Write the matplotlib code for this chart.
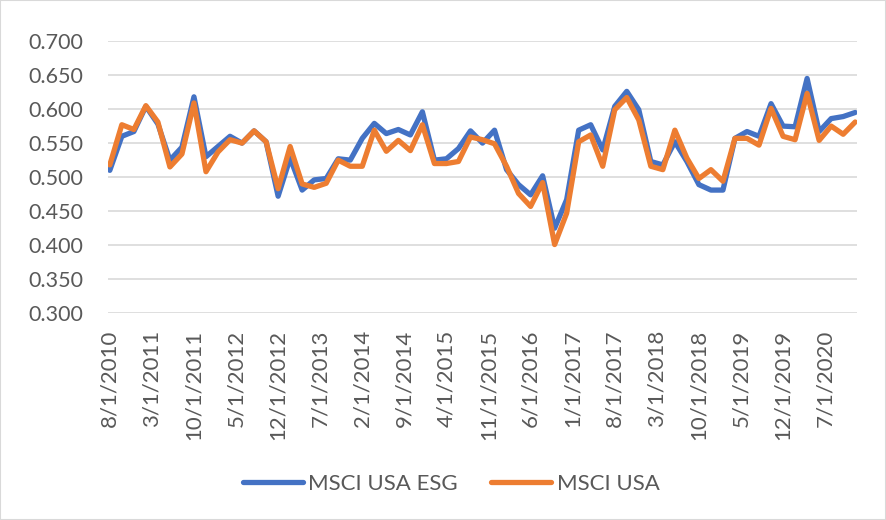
import numpy as np
import pandas as pd
import matplotlib
matplotlib.use('Agg')
import matplotlib.pyplot as plt
from matplotlib.patches import Rectangle

# bi-monthly observations, Aug 2010 - Dec 2020
start = '2010-08-01'
n_obs = 63
msci_usa_esg = [0.510, 0.560, 0.567, 0.604, 0.578, 0.525, 0.544, 0.618, 0.530, 0.545,
                0.560, 0.550, 0.568, 0.552, 0.472, 0.528, 0.481, 0.496, 0.498, 0.527,
                0.525, 0.557, 0.579, 0.564, 0.570, 0.562, 0.596, 0.525, 0.527, 0.542,
                0.568, 0.550, 0.569, 0.511, 0.489, 0.474, 0.502, 0.425, 0.467, 0.569,
                0.577, 0.540, 0.604, 0.626, 0.599, 0.523, 0.518, 0.552, 0.523, 0.489,
                0.481, 0.481, 0.557, 0.567, 0.560, 0.608, 0.575, 0.574, 0.645, 0.567,
                0.586, 0.589, 0.595]
msci_usa = [0.518, 0.577, 0.570, 0.605, 0.581, 0.515, 0.534, 0.609, 0.508, 0.537,
            0.555, 0.550, 0.568, 0.552, 0.483, 0.545, 0.490, 0.485, 0.491, 0.525,
            0.516, 0.516, 0.569, 0.538, 0.554, 0.539, 0.577, 0.520, 0.520, 0.523,
            0.559, 0.555, 0.549, 0.516, 0.476, 0.457, 0.492, 0.401, 0.447, 0.552,
            0.562, 0.516, 0.599, 0.617, 0.584, 0.516, 0.511, 0.569, 0.528, 0.498,
            0.511, 0.494, 0.557, 0.557, 0.547, 0.601, 0.560, 0.555, 0.623, 0.554,
            0.575, 0.563, 0.581]
tick_every = 7  # months between axis labels
y_ticks = [0.300, 0.350, 0.400, 0.450, 0.500, 0.550, 0.600, 0.650, 0.700]

dates = pd.date_range(start, periods=n_obs, freq='2MS')
t0 = dates[0]
months = np.array([(d.year - t0.year) * 12 + d.month - t0.month for d in dates])
last = months[-1]
tick_pos = np.arange(0, last, tick_every)
tick_dates = [t0 + pd.DateOffset(months=int(m)) for m in tick_pos]
tick_labels = ['{}/1/{}'.format(d.month, d.year) for d in tick_dates]

plt.rcParams['font.family'] = ['Lato', 'DejaVu Sans']
grey = '#595959'

fig = plt.figure(figsize=(8.86, 5.2), dpi=100)
ax = fig.add_axes([108 / 886, 1 - 313.3 / 520, (857 - 108) / 886, (313.3 - 41) / 520])

ax.plot(months, msci_usa_esg, color='#4472C4', lw=3.8, label='MSCI USA ESG',
        solid_joinstyle='round', solid_capstyle='round')
ax.plot(months, msci_usa, color='#ED7D31', lw=3.8, label='MSCI USA',
        solid_joinstyle='round', solid_capstyle='round')

ax.set_ylim(0.3, 0.7)
ax.set_xlim(-0.3, last + 0.3)
ax.set_yticks(y_ticks)
ax.set_yticklabels(['{:.3f}'.format(v) for v in y_ticks], fontsize=15.5)
ax.set_xticks(tick_pos)
ax.set_xticklabels(tick_labels, rotation=90, fontsize=16)
ax.tick_params(axis='both', length=0, colors=grey)
ax.tick_params(axis='x', pad=12)
ax.tick_params(axis='y', pad=18)
ax.yaxis.grid(True, color='#D9D9D9', lw=1.2)
ax.set_axisbelow(True)
for s in ax.spines.values():
    s.set_visible(False)

leg = fig.legend(loc='center', bbox_to_anchor=(451 / 886, 1 - 484 / 520), ncol=2,
                 frameon=False, fontsize=16, handlelength=2.7, columnspacing=1.5,
                 handletextpad=0.25)
for txt in leg.get_texts():
    txt.set_color(grey)

fig.patches.append(Rectangle((0, 0), 1, 1, transform=fig.transFigure, fill=False,
                             edgecolor='#D9D9D9', lw=1.5))

fig.savefig('out.png', dpi=100)
